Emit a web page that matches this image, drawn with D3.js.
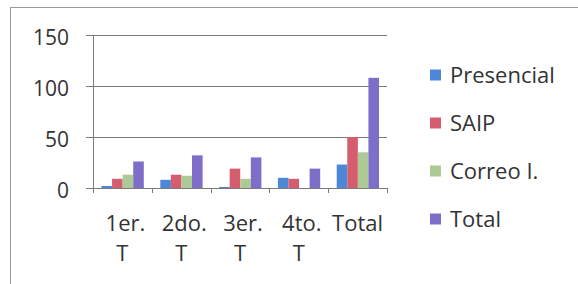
<!DOCTYPE html>
<html><head><meta charset="utf-8">
<script src="https://cdn.jsdelivr.net/npm/d3@7"></script>
<style>html,body{margin:0;padding:0;background:#fff;}svg{display:block;}</style>
</head><body>
<svg id="c" width="578" height="284"></svg>
<script>
const categories = [["1er.","T"],["2do.","T"],["3er.","T"],["4to.","T"],["Total"]];
const seriesNames = ["Presencial","SAIP","Correo I.","Total"];
const presencial = [2, 8, 1, 10, 23];
const saip = [9, 13, 19, 9, 50];
const correo = [13, 12, 9, 0, 35];
const total = [26, 32, 30, 19, 108];
const yTicks = [0, 50, 100, 150];
const colors = ["#4d88d8", "#d65d6e", "#adc996", "#7e6ec9"];

const series = [presencial, saip, correo, total];
const svg = d3.select("#c");
const font = "'Open Sans', sans-serif";

svg.append("rect").attr("x",10.5).attr("y",7.5).attr("width",570).attr("height",278)
  .attr("fill","none").attr("stroke","#9a9a9a").attr("stroke-width",1);

const x0 = 93, x1 = 387, yTop = 35, yBot = 188;
const x = d3.scaleBand().domain(d3.range(categories.length)).range([x0, x1]).padding(0);
const xi = d3.scaleBand().domain(d3.range(series.length)).range([8.5, x.bandwidth() - 8]).padding(0);
const y = d3.scaleLinear().domain([0,150]).range([yBot, yTop]);

const g = svg.append("g");
g.selectAll("line.grid").data(yTicks).join("line")
  .attr("x1", x0 - 7).attr("x2", x1).attr("y1", d => Math.round(y(d)) + 0.5).attr("y2", d => Math.round(y(d)) + 0.5)
  .attr("stroke", "#7a7a7a").attr("stroke-width", 1);
g.append("line").attr("x1", x0 + 0.5).attr("x2", x0 + 0.5).attr("y1", yTop).attr("y2", yBot + 5)
  .attr("stroke", "#7a7a7a");
g.selectAll("line.ct").data(d3.range(categories.length + 1)).join("line")
  .attr("x1", d => Math.round(x0 + d * x.bandwidth()) + 0.5).attr("x2", d => Math.round(x0 + d * x.bandwidth()) + 0.5)
  .attr("y1", yBot).attr("y2", yBot + 5).attr("stroke", "#7a7a7a");
g.selectAll("text.yl").data(yTicks).join("text")
  .attr("x", 69).attr("y", d => y(d) + 10).attr("text-anchor", "end")
  .attr("font-family", font).attr("font-size", 21).attr("fill", "#333").text(d => d);

series.forEach((s, si) => {
  g.selectAll("rect.s" + si).data(s).join("rect")
    .attr("x", (d, i) => x(i) + xi(si)).attr("width", xi.bandwidth())
    .attr("y", d => y(d)).attr("height", d => yBot - y(d))
    .attr("fill", colors[si]);
});

categories.forEach((lines, i) => {
  const t = g.append("text").attr("text-anchor", "middle")
    .attr("font-family", font).attr("font-size", 22).attr("fill", "#333");
  lines.forEach((l, li) => {
    t.append("tspan").attr("x", x(i) + x.bandwidth() / 2 + (lines.length > 1 && li === 0 ? 3 : 0)).attr("y", 231 + li * 30).text(l);
  });
});

const leg = svg.append("g");
const legY = [75, 123, 171, 219];
seriesNames.forEach((n, i) => {
  leg.append("rect").attr("x", 430).attr("y", legY[i] - 5.5).attr("width", 11).attr("height", 11).attr("fill", colors[i]);
  leg.append("text").attr("x", 450).attr("y", legY[i] + 8).attr("font-family", font).attr("font-size", 22)
    .attr("fill", "#333").text(n);
});
</script>
</body></html>
